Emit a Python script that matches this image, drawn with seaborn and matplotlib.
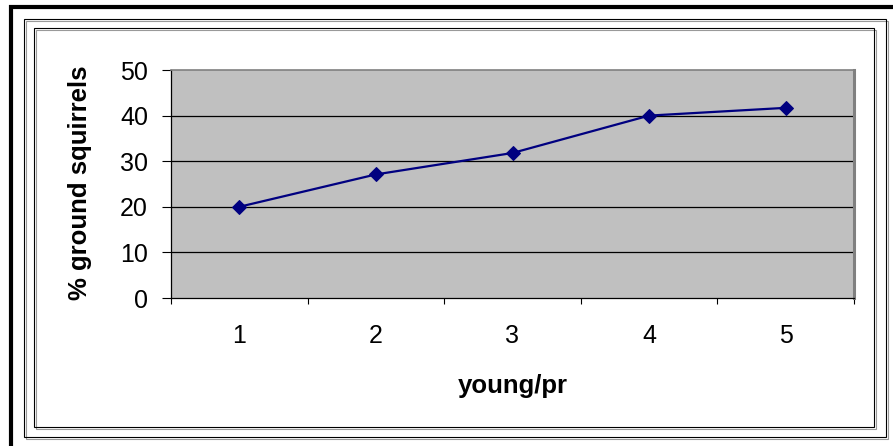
import matplotlib
matplotlib.use("Agg")
import matplotlib.pyplot as plt
import seaborn as sns
import pandas as pd
from matplotlib.lines import Line2D
from matplotlib.patches import Rectangle

# Data: share of ground squirrels by number of young per pair
young = [1, 2, 3, 4, 5]
pct_ground_squirrels = [20, 27.1, 31.8, 40, 41.7]
y_ticks = [0, 10, 20, 30, 40, 50]
x_tick_labels = ["1", "2", "3", "4", "5"]

W, H = 893, 446

sns.set_theme(style="white")
plt.rcParams["font.family"] = ["Liberation Sans", "DejaVu Sans"]
plt.rcParams["text.color"] = "black"
plt.rcParams["axes.labelcolor"] = "black"
plt.rcParams["xtick.color"] = "black"
plt.rcParams["ytick.color"] = "black"

fig = plt.figure(figsize=(W / 100, H / 100), dpi=100)
fig.patch.set_facecolor("white")


def fx(px):
    return px / W


def fy(py):
    return 1 - py / H


# page border (thick black top and left edges)
fig.add_artist(Line2D([fx(9), fx(W)], [fy(7), fy(7)], color="black", lw=3.0,
                      transform=fig.transFigure, solid_capstyle="butt"))
fig.add_artist(Line2D([fx(11), fx(11)], [fy(5), fy(H)], color="black", lw=3.0,
                      transform=fig.transFigure, solid_capstyle="butt"))


def frame(x0, y0, x1, y1):
    # thin black rectangle with a soft grey shadow
    fig.add_artist(Rectangle((fx(x0 + 1.5), fy(y1 + 1.5)), fx(x1 - x0), fy(y0) - fy(y1),
                             transform=fig.transFigure, fill=False,
                             edgecolor="#9a9a9a", lw=0.8))
    fig.add_artist(Rectangle((fx(x0), fy(y1)), fx(x1 - x0), fy(y0) - fy(y1),
                             transform=fig.transFigure, fill=False,
                             edgecolor="black", lw=0.8))


frame(24, 19, 886, 437)
frame(34, 28, 874, 427)

# plot area
ax = fig.add_axes([fx(171), fy(298), fx(854 - 171), fy(70) - fy(298)])
ax.set_facecolor("#C0C0C0")

df = pd.DataFrame({"young/pr": young, "pct": pct_ground_squirrels})
sns.lineplot(data=df, x="young/pr", y="pct", ax=ax, color="#000080",
             marker="D", markersize=7, markeredgecolor="#000080",
             markerfacecolor="#000080", linewidth=1.6, zorder=3)

ax.set_xlim(0.5, 5.5)
ax.set_ylim(0, 50)

# horizontal gridlines
for v in y_ticks[1:-1]:
    ax.axhline(v, color="black", lw=0.9, zorder=1)

ax.set_yticks(y_ticks)
ax.set_yticklabels([str(v) for v in y_ticks], fontsize=18, color="black")
ax.tick_params(axis="y", which="major", direction="out", length=6.5,
               width=0.8, color="black", pad=10, left=True)

ax.set_xticks(young)
ax.set_xticklabels(x_tick_labels, fontsize=18, color="black")
ax.set_xticks([0.5, 1.5, 2.5, 3.5, 4.5, 5.5], minor=True)
ax.tick_params(axis="x", which="major", length=0, pad=19)
ax.tick_params(axis="x", which="minor", direction="out", length=4.5,
               width=0.8, color="black", bottom=True)

for side in ("left", "bottom"):
    ax.spines[side].set_color("black")
    ax.spines[side].set_linewidth(0.9)
ax.spines["top"].set_color("#808080")
ax.spines["top"].set_linewidth(1.2)
ax.spines["right"].set_color("#808080")
ax.spines["right"].set_linewidth(2.2)

ax.set_xlabel("young/pr", fontsize=18.5, fontweight="bold", va="top", color="black")
ax.xaxis.set_label_coords(0.5, -0.335)
ax.set_ylabel("% ground squirrels", fontsize=18.5, fontweight="bold", color="black")
ax.yaxis.set_label_coords(-0.116, 0.505)

fig.savefig("out.png", dpi=100, facecolor="white")
